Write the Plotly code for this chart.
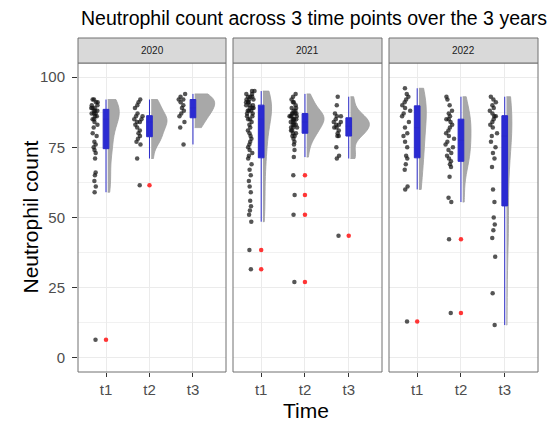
import numpy as np
import plotly.graph_objects as go

YEARS = ["2020", "2021", "2022"]
TIMES = ["t1", "t2", "t3"]

# Neutrophil counts per year / time point
y2020_t1 = [92, 92, 91, 91, 90, 90, 89, 89, 89, 88, 88, 88, 87, 87, 87, 86, 86, 85, 85, 84,
            83, 82, 80, 79, 77, 76, 75, 74, 73, 71, 66, 65, 63, 61, 59, 6.5]
y2020_t2 = [92, 91, 90, 89, 87, 86, 86, 85, 85, 84, 84, 83, 82, 81, 80, 79, 78, 77, 76, 71, 61.5]
y2020_t3 = [94, 93, 92, 92, 91, 90, 89, 88, 87, 86, 84, 82, 76]

y2021_t1 = [95, 95, 94, 94, 93, 93, 93, 92, 92, 92, 91, 91, 91, 90, 90, 90, 89, 89, 89, 88,
            88, 88, 87, 87, 86, 86, 85, 85, 84, 83, 82, 81, 80, 79, 78, 77, 76, 75, 74, 73,
            72, 71, 69, 67, 65, 63, 61, 59, 56, 54, 52.5, 51, 48.5, 38.4, 31.6]
y2021_t2 = [94, 93, 92, 91, 91, 90, 89, 89, 88, 88, 87, 87, 87, 87, 86, 86, 86, 86, 85, 85,
            85, 85, 84, 84, 84, 83, 83, 83, 82, 82, 82, 81, 81, 80, 80, 79, 79, 78, 77, 76,
            74, 71.5, 65, 58, 51, 27]
y2021_t3 = [93, 90, 87, 86, 86, 85, 84, 84, 83, 83, 82, 82, 81, 80, 79, 79, 75, 72, 71, 43.5]

y2022_t1 = [96, 94, 93, 92, 91, 90, 89, 88, 87, 86, 84, 82, 80, 79, 77, 75, 72, 71, 69, 67,
            61, 60, 13]
y2022_t2 = [93, 92, 90, 88, 87, 86, 85, 85, 84, 83, 82, 81, 80, 79, 78, 77, 76, 75, 74, 73,
            72, 71, 70, 69, 68, 64.5, 57, 55.5, 42.3, 16]
y2022_t3 = [93, 92, 91, 90, 89, 88, 87, 86, 86, 85, 84, 83, 82, 80, 79, 77, 75, 73, 71, 68,
            60, 55.5, 50, 47.5, 45.5, 42.7, 36, 23, 11.7]

DATA = {
    "2020": [y2020_t1, y2020_t2, y2020_t3],
    "2021": [y2021_t1, y2021_t2, y2021_t3],
    "2022": [y2022_t1, y2022_t2, y2022_t3],
}

FONT = "Liberation Sans, Arial, sans-serif"
W, H = 553, 426
ML, MR, MT, MB = 78, 15, 63, 54
PW = W - ML - MR
PH = H - MT - MB


def nrd0(v):
    v = np.asarray(v, float)
    sd = np.std(v, ddof=1)
    iqr = np.subtract(*np.percentile(v, [75, 25]))
    lo = min(sd, iqr / 1.34) if iqr > 0 else sd
    return 0.9 * lo * len(v) ** (-0.2)


def stats(v):
    v = np.asarray(v, float)
    q1, q3 = np.percentile(v, [25, 75])
    fence = q1 - 1.5 * (q3 - q1)
    lo = v[v >= fence].min()
    return lo, v.max()


def peak_density(v, bw):
    v = np.asarray(v, float)
    lo, hi = stats(v)
    grid = np.linspace(lo, hi, 400)
    d = np.exp(-0.5 * ((grid[:, None] - v[None, :]) / bw) ** 2).sum(1) / (len(v) * bw * np.sqrt(2 * np.pi))
    return d.max()


info = {}
for yr in YEARS:
    for j, vals in enumerate(DATA[yr]):
        bw = nrd0(vals)
        info[(yr, j)] = (bw, peak_density(vals, bw), stats(vals))
gmax = max(p for (_, p, _) in info.values())

fig = go.Figure()
domains = [[0, 148 / PW], [155 / PW, 304 / PW], [311 / PW, 1.0]]

for i, yr in enumerate(YEARS):
    xa = "x" if i == 0 else f"x{i+1}"
    for j, vals in enumerate(DATA[yr]):
        pos = j + 1
        bw, pk, (lo, hi) = info[(yr, j)]
        ext = 0.46 * pk / gmax
        fig.add_trace(go.Violin(
            y=vals, x0=pos + 0.04, xaxis=xa, yaxis="y", side="positive",
            width=2 * ext, bandwidth=bw, spanmode="manual", span=[lo, hi],
            fillcolor="#A8A8A8", line=dict(color="#A0A0A0", width=0.8),
            points=False, box_visible=False, meanline_visible=False,
            showlegend=False, hoverinfo="skip", scalemode="width"))
        fig.add_trace(go.Box(
            y=vals, x0=pos - 0.25, xaxis=xa, yaxis="y", width=0.22,
            boxpoints="all", jitter=1, pointpos=0,
            fillcolor="rgba(0,0,0,0)", line=dict(width=0, color="rgba(0,0,0,0)"),
            marker=dict(color="rgba(20,20,20,0.72)", size=4.5),
            showlegend=False, hoverinfo="skip"))
        fig.add_trace(go.Box(
            y=vals, x0=pos, xaxis=xa, yaxis="y", width=0.13,
            boxpoints="outliers", jitter=0, pointpos=0, whiskerwidth=0,
            fillcolor="#2A2AD2", line=dict(color="#2A2AC8", width=1),
            marker=dict(color="#FF2020", size=4.5, opacity=0.9),
            showlegend=False, hoverinfo="skip"))

axis_common = dict(
    tickvals=[1, 2, 3], ticktext=TIMES, range=[0.356, 3.76],
    showgrid=True, gridcolor="#EBEBEB", gridwidth=1, zeroline=False,
    ticks="outside", ticklen=4, tickcolor="#333333", tickwidth=1,
    tickfont=dict(family=FONT, size=15, color="#4D4D4D"), anchor="y",
    showline=False,
)
layout = dict(
    width=W, height=H, margin=dict(l=ML, r=MR, t=MT, b=MB, pad=0),
    paper_bgcolor="white", plot_bgcolor="white", boxmode="overlay", violinmode="overlay",
    yaxis=dict(range=[-5, 105], tickvals=[0, 25, 50, 75, 100],
               showgrid=True, gridcolor="#EBEBEB", gridwidth=1, zeroline=False,
               ticks="outside", ticklen=5, tickcolor="#333333", ticklabelstandoff=4,
               tickfont=dict(family=FONT, size=15, color="#4D4D4D"),
               minor=dict(tickvals=[12.5, 37.5, 62.5, 87.5], showgrid=True,
                          gridcolor="#F1F1F1", gridwidth=0.6, ticks=""),
               anchor="x"),
    font=dict(family=FONT),
)
for i in range(3):
    key = "xaxis" if i == 0 else f"xaxis{i+1}"
    layout[key] = dict(axis_common, domain=domains[i])
fig.update_layout(**layout)

shapes = []
annotations = []
strip_top = 1 + 25 / PH
for i, yr in enumerate(YEARS):
    xr = "x domain" if i == 0 else f"x{i+1} domain"
    shapes.append(dict(type="rect", xref=xr, yref="y domain", x0=0, x1=1, y0=0, y1=1,
                       line=dict(color="#707070", width=1), fillcolor="rgba(0,0,0,0)", layer="above"))
    shapes.append(dict(type="rect", xref=xr, yref="paper", x0=0, x1=1, y0=1, y1=strip_top,
                       line=dict(color="#707070", width=1), fillcolor="#D9D9D9", layer="above"))
    annotations.append(dict(xref=xr, yref="paper", x=0.5, y=(1 + strip_top) / 2, text=yr,
                            showarrow=False, xanchor="center", yanchor="middle",
                            font=dict(family=FONT, size=10, color="#1A1A1A")))

annotations.append(dict(xref="paper", yref="paper", x=(30 - ML) / PW, y=0.5,
                        text="Neutrophil count", textangle=-90, showarrow=False,
                        xanchor="center", yanchor="middle",
                        font=dict(family=FONT, size=21, color="black")))
annotations.append(dict(xref="paper", yref="paper", x=(306 - ML) / PW, y=(H - MB - 410) / PH,
                        text="Time", showarrow=False, xanchor="center", yanchor="middle",
                        font=dict(family=FONT, size=21, color="black")))
annotations.append(dict(xref="paper", yref="paper", x=(79 - ML) / PW, y=(H - MB - 18) / PH,
                        text="Neutrophil count across 3 time points over the 3 years",
                        showarrow=False, xanchor="left", yanchor="middle",
                        font=dict(family=FONT, size=19.5, color="black")))
fig.update_layout(shapes=shapes, annotations=annotations)

fig.write_html("out.html")
